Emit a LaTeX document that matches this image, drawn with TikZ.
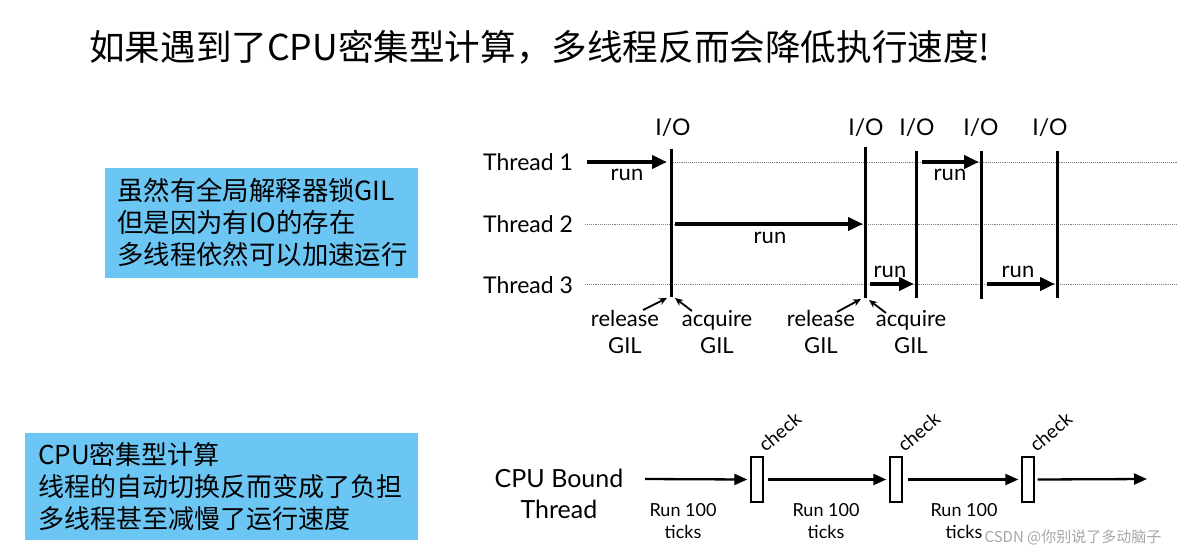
\documentclass[tikz,border=0pt]{standalone}
\usepackage{fontspec}
\setmainfont{Lato}
\newfontfamily\cjk{Noto Sans CJK SC}
\usetikzlibrary{arrows.meta}
\definecolor{boxblue}{RGB}{108,198,244}
\begin{document}
\begin{tikzpicture}[x=1pt,y=-1pt,
  lbl/.style={font=\fontsize{23}{25}\selectfont, inner sep=0pt},
  runlbl/.style={font=\fontsize{22}{24}\selectfont, inner sep=0pt},
  gillbl/.style={font=\fontsize{22}{27}\selectfont, inner sep=0pt, align=center},
  ioline/.style={line width=3pt},
  thr/.style={line width=4pt,-{Triangle[length=15pt,width=13pt]}},
  dots/.style={densely dotted, gray, line width=0.9pt},
  gilarr/.style={line width=1.8pt,-{Stealth[length=8pt,width=7pt]}},
  cpuarr/.style={line width=2.3pt,-{Triangle[length=13pt,width=11pt]}},
  chk/.style={draw, line width=1.4pt, minimum width=12pt, minimum height=45pt, inner sep=0pt},
  chklbl/.style={font=\fontsize{19}{21}\selectfont, inner sep=0pt, rotate=40, anchor=south west},
  ticklbl/.style={font=\fontsize{18}{22}\selectfont, inner sep=0pt, align=center},
  bluebox/.style={fill=boxblue, inner sep=0pt, anchor=north west},
  cjktext/.style={inner sep=0pt, anchor=west, align=left}
]
\useasboundingbox (0,0) rectangle (1184,555);

% title
\node[inner sep=0pt, anchor=west, font=\cjk\fontsize{35.6}{38}\selectfont] (title) at (89,47) {如果遇到了CPU密集型计算，多线程反而会降低执行速度!};

% blue boxes
\node[bluebox, minimum width=313pt, minimum height=110pt] (box1) at (105,168) {};
\node[cjktext, font=\cjk\fontsize{26.4}{32}\selectfont] (txt1) at (117,222) {虽然有全局解释器锁GIL\\但是因为有IO的存在\\多线程依然可以加速运行};
\node[bluebox, minimum width=393pt, minimum height=107pt] (box2) at (25,433) {};
\node[cjktext, font=\cjk\fontsize{26}{32}\selectfont] (txt2) at (38,487) {CPU密集型计算\\线程的自动切换反而变成了负担\\多线程甚至减慢了运行速度};

% thread labels
\node[lbl, anchor=west] (th1) at (483,162) {Thread 1};
\node[lbl, anchor=west] (th2) at (483,224) {Thread 2};
\node[lbl, anchor=west] (th3) at (483,285) {Thread 3};

% dotted lines
\coordinate (d1a) at (671,162); \coordinate (d1b) at (1177,162);
\coordinate (d2a) at (585,224); \coordinate (d2b) at (1177,224);
\coordinate (d3a) at (585,284); \coordinate (d3b) at (1177,284);
\draw[dots] (d1a) -- (d1b);
\draw[dots] (d2a) -- (d2b);
\draw[dots] (d3a) -- (d3b);

% I/O vertical lines
\coordinate (v1t) at (671,149); \coordinate (v1b) at (671,297);
\coordinate (v2t) at (865,147); \coordinate (v2b) at (865,298);
\coordinate (v3t) at (916,151); \coordinate (v3b) at (916,298);
\coordinate (v4t) at (981,151); \coordinate (v4b) at (981,299);
\coordinate (v5t) at (1057,151); \coordinate (v5b) at (1057,298);
\draw[ioline] (v1t) -- (v1b);
\draw[ioline] (v2t) -- (v2b);
\draw[ioline] (v3t) -- (v3b);
\draw[ioline] (v4t) -- (v4b);
\draw[ioline] (v5t) -- (v5b);
\node[lbl] (io1) at (673,128) {I/O};
\node[lbl] (io2) at (866,128) {I/O};
\node[lbl] (io3) at (917,128) {I/O};
\node[lbl] (io4) at (981,128) {I/O};
\node[lbl] (io5) at (1050,128) {I/O};

% run arrows
\coordinate (r1a) at (587,162); \coordinate (r1b) at (667,162);
\coordinate (r2a) at (675,224); \coordinate (r2b) at (863,224);
\coordinate (r3a) at (870,284); \coordinate (r3b) at (914,284);
\coordinate (r4a) at (922,162); \coordinate (r4b) at (979,162);
\coordinate (r5a) at (987,284); \coordinate (r5b) at (1055,284);
\draw[thr] (r1a) -- (r1b);
\draw[thr] (r2a) -- (r2b);
\draw[thr] (r3a) -- (r3b);
\draw[thr] (r4a) -- (r4b);
\draw[thr] (r5a) -- (r5b);
\node[runlbl] (run1) at (627,175) {run};
\node[runlbl] (run2) at (770,238) {run};
\node[runlbl] (run3) at (890,272) {run};
\node[runlbl] (run4) at (950,175) {run};
\node[runlbl] (run5) at (1018,272) {run};

% release / acquire
\node[gillbl] (rel1) at (625,332) {release\\GIL};
\node[gillbl] (acq1) at (717,332) {acquire\\GIL};
\node[gillbl] (rel2) at (821,332) {release\\GIL};
\node[gillbl] (acq2) at (911,332) {acquire\\GIL};
\coordinate (ra1) at (643,310); \coordinate (rb1) at (667,298);
\coordinate (aa1) at (692,311); \coordinate (ab1) at (675,298);
\coordinate (ra2) at (837,312); \coordinate (rb2) at (861,299);
\coordinate (aa2) at (886,313); \coordinate (ab2) at (869,300);
\draw[gilarr] (ra1) -- (rb1);
\draw[gilarr] (aa1) -- (ab1);
\draw[gilarr] (ra2) -- (rb2);
\draw[gilarr] (aa2) -- (ab2);

% CPU bound thread
\node[font=\fontsize{25}{31}\selectfont, inner sep=0pt, align=center] (cpu) at (559,494) {CPU Bound\\Thread};
\node[chk] (c1) at (757,479.5) {};
\node[chk] (c2) at (896,479.5) {};
\node[chk] (c3) at (1028,479.5) {};
\coordinate (cs) at (645,479);
\coordinate (ce) at (1147,479);
\draw[cpuarr] (cs) -- ([xshift=-3pt]c1.west);
\draw[cpuarr] ([xshift=4pt]c1.east) -- ([xshift=-3pt]c2.west);
\draw[cpuarr] ([xshift=5pt]c2.east) -- ([xshift=-3pt]c3.west);
\draw[cpuarr] ([xshift=3pt]c3.east) -- (ce);
\node[chklbl] (k1) at ([xshift=2pt,yshift=3pt]c1.north east) {check};
\node[chklbl] (k2) at ([xshift=2pt,yshift=3pt]c2.north east) {check};
\node[chklbl] (k3) at ([xshift=2pt,yshift=3pt]c3.north east) {check};
\node[ticklbl] (t1) at (683,521) {Run 100\\ticks};
\node[ticklbl] (t2) at (826,521) {Run 100\\ticks};
\node[ticklbl] (t3) at (964,521) {Run 100\\ticks};

% watermark
\node[inner sep=0pt, text=gray!70, font=\cjk\fontsize{15}{17}\selectfont] (wm) at (1073,537) {CSDN @你别说了多动脑子};
\end{tikzpicture}
\end{document}
